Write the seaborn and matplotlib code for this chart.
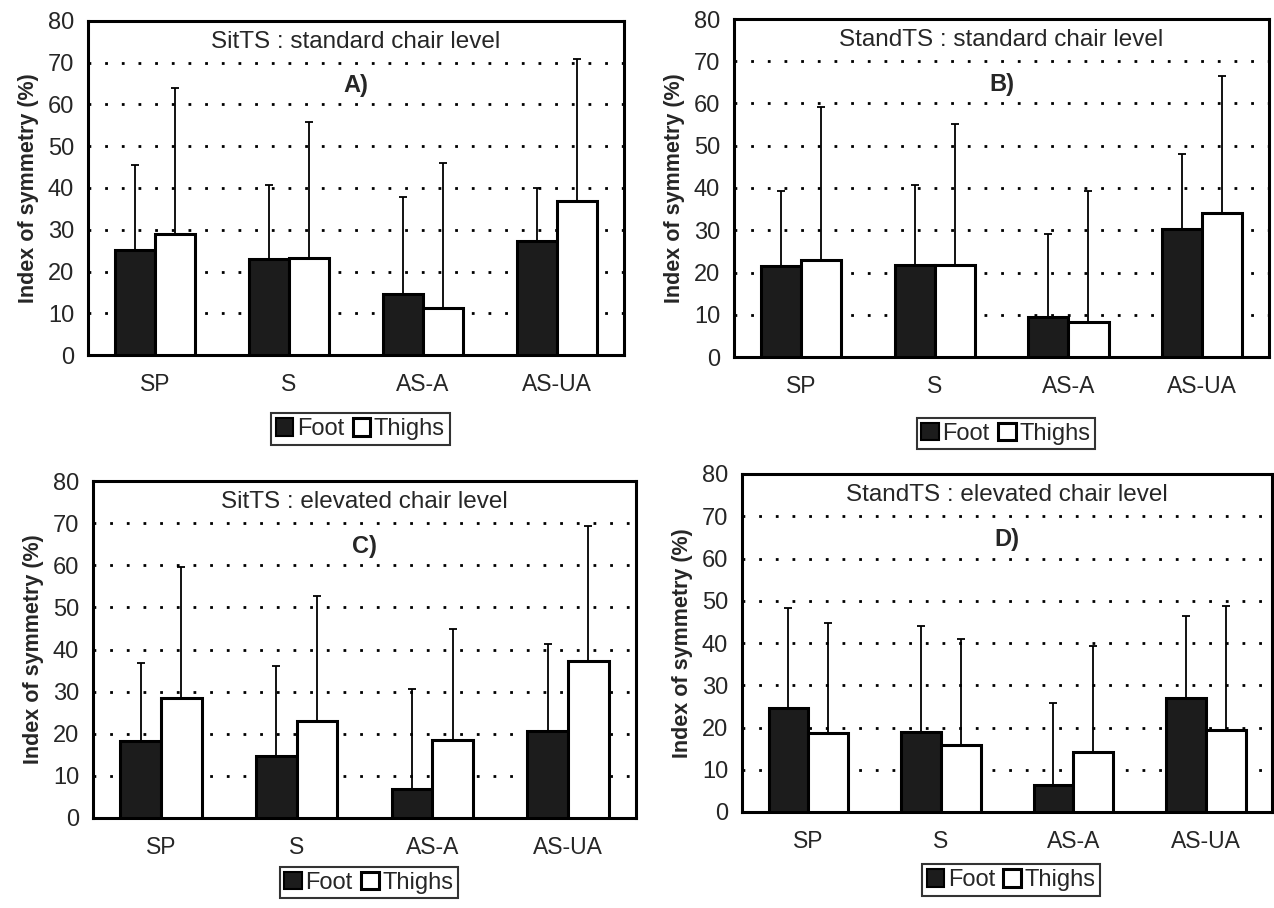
import matplotlib
matplotlib.use("Agg")
import matplotlib.pyplot as plt
import seaborn as sns
import pandas as pd
from matplotlib.patches import Patch

# ---------------- data ----------------
categories = ["SP", "S", "AS-A", "AS-UA"]
parts = ["Foot", "Thighs"]

titles = ["SitTS : standard chair level", "StandTS : standard chair level",
          "SitTS : elevated chair level", "StandTS : elevated chair level"]
panel_tags = ["A)", "B)", "C)", "D)"]

# Panel A
a_foot_mean = [25.1, 22.9, 14.5, 27.4]
a_foot_sd = [20.5, 17.7, 23.4, 12.7]
a_thighs_mean = [29.0, 23.3, 11.3, 36.9]
a_thighs_sd = [35.0, 32.4, 34.7, 34.1]
# Panel B
b_foot_mean = [21.5, 21.7, 9.5, 30.3]
b_foot_sd = [17.7, 19.0, 19.5, 17.7]
b_thighs_mean = [23.0, 21.8, 8.3, 34.1]
b_thighs_sd = [36.1, 33.4, 31.0, 32.5]
# Panel C
c_foot_mean = [18.3, 14.8, 7.0, 20.6]
c_foot_sd = [18.4, 21.2, 23.6, 20.7]
c_thighs_mean = [28.4, 23.0, 18.6, 37.3]
c_thighs_sd = [31.1, 29.6, 26.2, 32.1]
# Panel D
d_foot_mean = [24.6, 19.0, 6.5, 27.1]
d_foot_sd = [23.7, 25.0, 19.3, 19.3]
d_thighs_mean = [18.8, 15.9, 14.1, 19.3]
d_thighs_sd = [25.9, 25.0, 25.2, 29.5]

y_ticks = [0, 10, 20, 30, 40, 50, 60, 70, 80]
y_label = "Index of symmetry (%)"

panels = [
    (a_foot_mean, a_foot_sd, a_thighs_mean, a_thighs_sd),
    (b_foot_mean, b_foot_sd, b_thighs_mean, b_thighs_sd),
    (c_foot_mean, c_foot_sd, c_thighs_mean, c_thighs_sd),
    (d_foot_mean, d_foot_sd, d_thighs_mean, d_thighs_sd),
]

# ---------------- style ----------------
sns.set_theme(style="white")
plt.rcParams["font.family"] = ["Liberation Sans", "DejaVu Sans"]

W, H = 1274, 908
fig = plt.figure(figsize=(W / 100, H / 100), dpi=100)

# axes boxes in pixels: left, right, top, bottom
boxes = [
    (88, 624, 21, 355),
    (734, 1269, 19, 357),
    (93, 636, 481, 818),
    (742, 1272, 474, 812),
]
legend_tops = [-0.175, -0.18, -0.145, -0.155]
foot_col = "#1c1c1c"

for i, (fm, fs, tm, ts) in enumerate(panels):
    l, r, t, b = boxes[i]
    ax = fig.add_axes([l / W, (H - b) / H, (r - l) / W, (b - t) / H])
    df = pd.DataFrame({
        "cat": categories * 2,
        "part": [parts[0]] * 4 + [parts[1]] * 4,
        "val": list(fm) + list(tm),
    })
    sns.barplot(data=df, x="cat", y="val", hue="part", order=categories,
                hue_order=parts, palette={"Foot": foot_col, "Thighs": "white"},
                width=0.6, edgecolor="black", linewidth=2.2, errorbar=None,
                saturation=1, legend=False, ax=ax, zorder=3)
    sds = [fs, ts]
    for cont, sd in zip(ax.containers, sds):
        for bar, s in zip(cont, sd):
            x = bar.get_x() + bar.get_width() / 2
            y = bar.get_height()
            ax.errorbar(x, y, yerr=[[0], [s]], fmt="none", ecolor="black",
                        elinewidth=1.3, capsize=3, capthick=1.3, zorder=2)

    ax.set_ylim(0, 80)
    ax.set_xlim(-0.5, 3.5)
    ax.set_yticks(y_ticks)
    ax.set_yticklabels([str(v) for v in y_ticks], fontsize=17)
    ax.set_xticks(range(4))
    ax.set_xticklabels(categories, fontsize=16.5)
    ax.set_xticks([-0.5, 0.5, 1.5, 2.5, 3.5], minor=True)
    ax.tick_params(axis="x", which="major", length=0, pad=13)
    ax.tick_params(axis="x", which="minor", length=7, width=1.5, direction="out", color="black")
    ax.tick_params(axis="y", length=7, width=1.5, direction="out", color="black", pad=3)
    ax.set_xlabel("")
    ax.set_ylabel(y_label, fontsize=15.5, fontweight="bold", labelpad=6)
    for sp in ax.spines.values():
        sp.set_visible(True)
        sp.set_color("black")
        sp.set_linewidth(2.2)
    # dotted horizontal gridlines
    ax.yaxis.grid(True, linestyle=(0, (1, 5)), color="black", linewidth=2)
    ax.xaxis.grid(False)
    for gl, v in zip(ax.get_ygridlines(), y_ticks):
        if v in (0, 80):
            gl.set_visible(False)
    ax.set_axisbelow(True)

    ax.text(1.5, 75, titles[i], ha="center", va="center", fontsize=17.5, zorder=4)
    ax.text(1.5, 64.5, panel_tags[i], ha="center", va="center", fontsize=17,
            fontweight="bold", zorder=4)

    handles = [Patch(facecolor=foot_col, edgecolor="black", linewidth=1.5, label="Foot"),
               Patch(facecolor="white", edgecolor="black", linewidth=2.2, label="Thighs")]
    leg = ax.legend(handles=handles, loc="upper center", bbox_to_anchor=(0.508, legend_tops[i]),
                    ncol=2, fontsize=17, frameon=True, fancybox=False, edgecolor="black",
                    handlelength=0.75, handleheight=0.75, handletextpad=0.15,
                    columnspacing=0.35, borderpad=0.2, borderaxespad=0)
    leg.get_frame().set_linewidth(1.5)

fig.savefig("out.png", dpi=100)
